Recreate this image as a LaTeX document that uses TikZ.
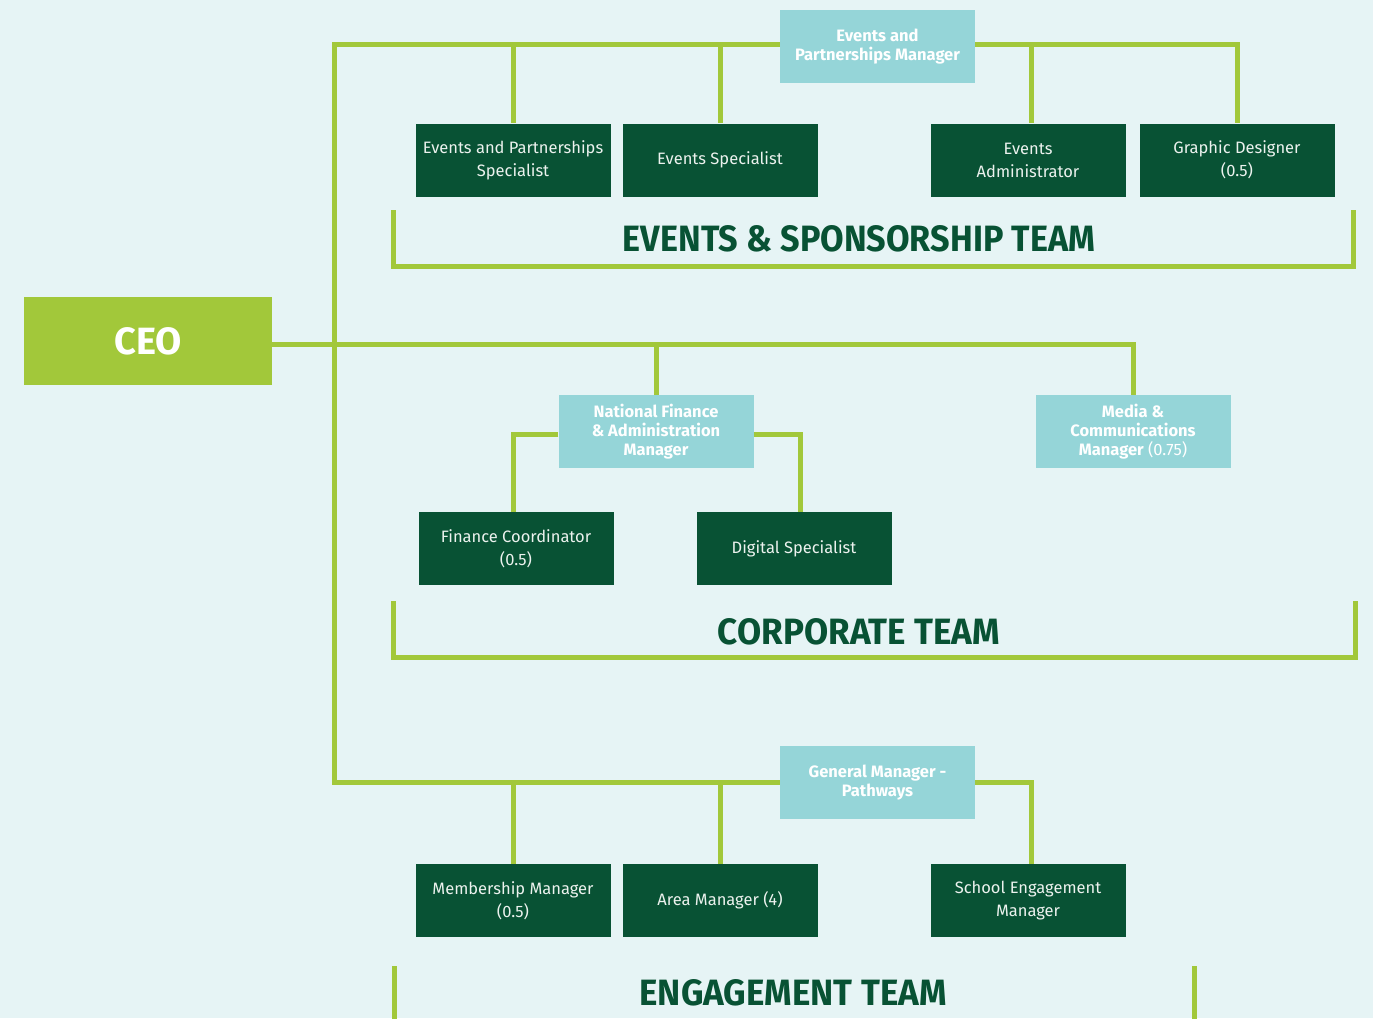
\documentclass[tikz,border=0pt]{standalone}
\usepackage{fontspec}
\usepackage{graphicx}
\setmainfont{Fira Sans}
\definecolor{bgc}{HTML}{E6F4F5}
\definecolor{lgreen}{HTML}{A2C83A}
\definecolor{tealbox}{HTML}{95D5D8}
\definecolor{dkgreen}{HTML}{085234}
\definecolor{offwhite}{HTML}{ECF2EE}
\tikzset{
  mgr/.style={fill=tealbox, text=white, minimum width=195pt, minimum height=73pt, inner sep=0pt, align=center, font=\bfseries\fontsize{16.5}{19}\selectfont},
  staff/.style={fill=dkgreen, text=offwhite, minimum width=195pt, minimum height=73pt, inner sep=0pt, align=center, font=\fontsize{16.5}{23}\selectfont},
  link/.style={draw=lgreen, line width=5pt, line join=miter},
  teamlbl/.style={text=dkgreen, inner sep=0pt, font=\bfseries}
}
\begin{document}
\begin{tikzpicture}[x=1pt,y=-1pt]
\fill[bgc] (0,0) rectangle (1373,1018);
\useasboundingbox (0,0) rectangle (1373,1018);

% CEO
\node[fill=lgreen, text=white, minimum width=248pt, minimum height=88pt, inner sep=0pt, font=\bfseries\fontsize{38}{44}\selectfont] (ceo) at (148,341) {CEO};

% Events & sponsorship
\node[mgr] (epm) at (877.5,46.5) {Events and\\Partnerships Manager};
\node[staff] (eps) at (513,160) {Events and Partnerships\\Specialist};
\node[staff] (es) at (720,160) {Events Specialist};
\node[staff] (ea) at (1028,160) {Events\\Administrator};
\node[staff] (gd) at (1237,160) {Graphic Designer\\(0.5)};

% Corporate
\node[mgr] (nfam) at (656,431.5) {National Finance\\\&~Administration\\Manager};
\node[mgr] (media) at (1133,431.5) {Media \&\\Communications\\Manager\mdseries\ (0.75)};
\node[staff] (fc) at (516,548.5) {Finance Coordinator\\(0.5)};
\node[staff] (ds) at (794,548.5) {Digital Specialist};

% Engagement
\node[mgr] (gm) at (877.5,782.5) {General Manager -\\Pathways};
\node[staff] (mm) at (513,900.5) {Membership Manager\\(0.5)};
\node[staff] (am) at (720,900.5) {Area Manager (4)};
\node[staff] (sem) at (1028,900.5) {School Engagement\\Manager};

% trunk
\coordinate (ttop) at (334,44);
\coordinate (tbot) at (334,782);
\coordinate (ceoline) at ([yshift=-3pt]ceo.east);
\draw[link] (ttop -| epm.west) -- (ttop) -- (tbot) -- (tbot -| gm.west);

% events branches
\draw[link] (ttop -| eps.north) -- (eps.north);
\draw[link] (ttop -| es.north) -- (es.north);
\draw[link] (ttop -| epm.east) -| ([xshift=0pt]gd.north);
\draw[link] (ttop -| ea.north) ++(3,0) -- ([xshift=3pt]ea.north);

% CEO branches
\draw[link] (ceoline) -| (media.north);
\draw[link] (ceoline -| nfam.north) -- (nfam.north);
\draw[link] ([yshift=-2.5pt]nfam.west) -| ([xshift=-3pt]fc.north);
\draw[link] ([yshift=-2.5pt]nfam.east) -| ([xshift=6pt]ds.north);

% engagement branches
\draw[link] (tbot -| mm.north) -- (mm.north);
\draw[link] (tbot -| am.north) -- (am.north);
\draw[link] (tbot -| gm.east) -| ([xshift=3pt]sem.north);

% brackets
\draw[link] (393,210) -- (393,266) -- (1353,266) -- (1353,210);
\draw[link] (393,601) -- (393,657) -- (1355,657) -- (1355,601);
\draw[link] (394,966) -- (394,1020);
\draw[link] (1194,966) -- (1194,1020);

% team labels
\node[teamlbl] (t1) at (859,239) {\resizebox{472pt}{26pt}{EVENTS \& SPONSORSHIP TEAM}};
\node[teamlbl] (t2) at (859,632) {\resizebox{282pt}{26pt}{CORPORATE TEAM}};
\node[teamlbl] (t3) at (793,993) {\resizebox{307pt}{26pt}{ENGAGEMENT TEAM}};
\end{tikzpicture}
\end{document}
